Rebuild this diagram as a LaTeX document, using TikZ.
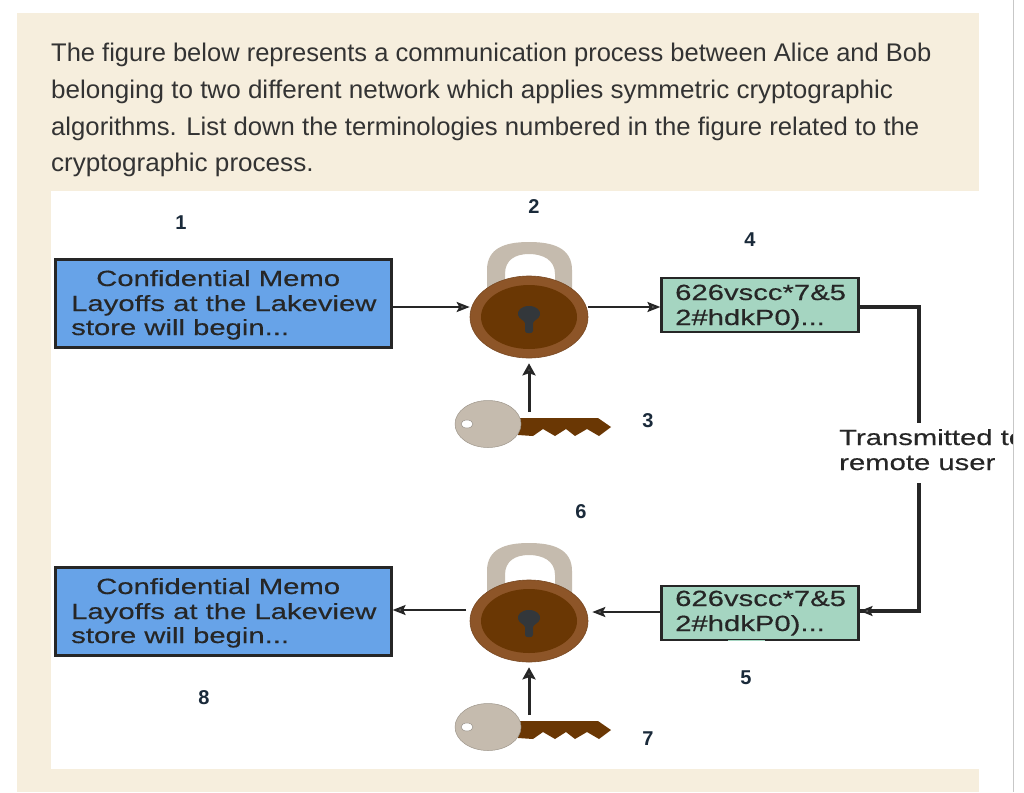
\documentclass[tikz,border=0pt]{standalone}
\usepackage{fontspec}
\setmainfont{Liberation Sans}
\newfontfamily\boxfont[FakeStretch=1.33,FakeBold=0.4]{Liberation Sans}
\usetikzlibrary{shapes.geometric,arrows.meta}
\definecolor{panel}{HTML}{F6EEDD}
\definecolor{memo}{HTML}{67A3E8}
\definecolor{cipher}{HTML}{A5D5C1}
\definecolor{rimbrown}{HTML}{8D5528}
\definecolor{corebrown}{HTML}{6A3704}
\definecolor{shackle}{HTML}{C5BBAE}
\definecolor{numcol}{HTML}{1A2A3A}
\definecolor{holecol}{HTML}{33373B}
\tikzset{
  x=1pt,y=-1pt,
  bodytext/.style={anchor=base west,font=\fontsize{25.5}{25.5}\selectfont,text=black!80,inner sep=0pt},
  memobox/.style={draw=black!85,line width=2.2pt,fill=memo,minimum width=336pt,minimum height=88pt,inner sep=0pt},
  cipherbox/.style={draw=black!85,line width=2.2pt,fill=cipher,minimum width=197pt,minimum height=54pt,inner sep=0pt},
  boxtext/.style={anchor=base west,font=\boxfont\fontsize{22}{22}\selectfont,text=black!85,inner sep=0pt},
  num/.style={font=\bfseries\fontsize{20}{20}\selectfont,text=numcol,inner sep=0pt},
  link/.style={draw=black!85,line width=2pt},
  linktip/.style={-{Stealth[length=13pt,width=10pt,inset=2.5pt,fill=black!60]}},
  keytip/.style={-{Stealth[length=12pt,width=13pt,inset=2pt,fill=black!70]}},
  rim/.style={ellipse,draw=rimbrown!85!black,line width=.6pt,fill=rimbrown,minimum width=118pt,minimum height=82pt,inner sep=0pt},
}
\newcommand\lockart[4]{% name, x, y, shackle rise
  \fill[shackle] (#2-42,#3-26) -- (#2-42,#3-#4+28)
     .. controls (#2-42,#3-#4+6) and (#2-24,#3-#4) .. (#2,#3-#4)
     .. controls (#2+24,#3-#4) and (#2+43,#3-#4+6) .. (#2+43,#3-#4+28)
     -- (#2+43,#3-26) -- (#2+26,#3-26) -- (#2+26,#3-#4+32)
     .. controls (#2+26,#3-#4+18) and (#2+14,#3-#4+12) .. (#2,#3-#4+12)
     .. controls (#2-14,#3-#4+12) and (#2-24,#3-#4+18) .. (#2-24,#3-#4+32)
     -- (#2-24,#3-26) -- cycle;
  \node[rim] (#1) at (#2,#3) {};
  \fill[corebrown] (#2,#3) ellipse [x radius=48,y radius=32];
  \fill[holecol] (#2,#3-11) .. controls (#2+8,#3-11) and (#2+12,#3-6) .. (#2+11,#3-2)
     .. controls (#2+10,#3+2) and (#2+5,#3+3) .. (#2+4,#3+6) -- (#2+4,#3+14)
     .. controls (#2+4,#3+17) and (#2-4,#3+17) .. (#2-4,#3+14) -- (#2-4,#3+6)
     .. controls (#2-5,#3+3) and (#2-10,#3+2) .. (#2-11,#3-2)
     .. controls (#2-12,#3-6) and (#2-8,#3-11) .. (#2,#3-11) -- cycle;
}
\newcommand\keyart[3]{% name, head x, head y
  \fill[corebrown] (#2+30,#3-6) -- (#2+110,#3-6) -- (#2+123,#3+3) -- (#2+111,#3+12)
     -- (#2+99,#3+5) -- (#2+87,#3+12) -- (#2+78,#3+5) -- (#2+67,#3+12) -- (#2+55,#3+5)
     -- (#2+45,#3+12) -- (#2+30,#3+11) -- cycle;
  \node[ellipse,draw=shackle!80!black,line width=.5pt,fill=shackle,minimum width=66pt,minimum height=47pt,inner sep=0pt] (#1) at (#2,#3) {};
  \fill[white,draw=shackle!70!black,line width=.4pt] (#2-21,#3) ellipse [x radius=6,y radius=4];
}
\begin{document}
\begin{tikzpicture}
\useasboundingbox (0,0) rectangle (1024,792);
\fill[white] (0,0) rectangle (1024,792);
\fill[panel] (17,13) rectangle (979,792);
\fill[white] (51,191) rectangle (1013,769);

\node[bodytext] (l1) at (51,62) {The figure below represents a communication process between Alice and Bob};
\node[bodytext] (l2) at (51,98) {\scalebox{1.021}[1]{belonging to two different network which applies symmetric cryptographic}};
\node[bodytext] (l3) at (51,135) {\scalebox{1.008}[1]{algorithms. List down the terminologies numbered in the figure related to the}};
\node[bodytext] (l4) at (51,171) {\scalebox{1.023}[1]{cryptographic process.}};

\node[memobox] (memoA) at (223.5,303.5) {};
\node[boxtext] (a1) at (96,286) {Confidential Memo};
\node[boxtext] (a2) at (71,311) {Layoffs at the Lakeview};
\node[boxtext] (a3) at (71,335) {store will begin...};
\node[memobox] (memoB) at (223.5,611.5) {};
\node[boxtext] (b1) at (96,594) {Confidential Memo};
\node[boxtext] (b2) at (71,619) {Layoffs at the Lakeview};
\node[boxtext] (b3) at (71,643) {store will begin...};

\node[cipherbox] (ciphA) at (760,305) {};
\node[boxtext] (c1) at (675,300) {626vscc*7\&5};
\node[boxtext] (c2) at (675,325) {2\#hdkP0)...};
\node[cipherbox] (ciphB) at (760,613) {};
\fill[cipher] (728,640.4) rectangle (765,641.2);
\fill[white] (728,641.2) rectangle (765,642.4);
\node[boxtext] (d1) at (675,606) {626vscc*7\&5};
\node[boxtext] (d2) at (675,631) {2\#hdkP0)...};

\lockart{lockA}{529}{317}{75}
\lockart{lockB}{529}{621}{78}
\keyart{keyA}{488}{424}
\keyart{keyB}{488}{727}

\node[boxtext] (tr1) at (839,445) {Transmitted to};
\node[boxtext] (tr2) at (839,470) {remote user};
\fill[white] (1013,400) rectangle (1024,500);
\draw[black!22,line width=1.4pt] (1013.5,0) -- (1013.5,792);

\coordinate (wireTop) at (919,423);
\coordinate (wireBot) at (919,483);
\coordinate (gapB) at (466,610);
\draw[link,linktip] ([yshift=-3.5pt]memoA.east) -- ([yshift=10pt]lockA.west);
\draw[link,linktip] ([yshift=10pt]lockA.east) -- ([yshift=-2pt]ciphA.west);
\draw[link,line width=3pt,keytip] ([xshift=41pt,yshift=12pt]keyA.center) -- ([yshift=-5pt]lockA.south);
\draw[link,line width=3.6pt] ([yshift=-2pt]ciphA.east) -| (wireTop);
\draw[link,line width=3.6pt] (wireBot) |- ([yshift=2pt]ciphB.east);
\draw[link,linktip] ([xshift=16pt,yshift=2pt]ciphB.east) -- ([yshift=2pt]ciphB.east);
\draw[link,linktip] ([yshift=1pt]ciphB.west) -- ([xshift=4pt,yshift=9pt]lockB.east);
\draw[link,linktip] (gapB) -- ([yshift=1.5pt]memoB.east);
\draw[link,line width=3pt,keytip] ([xshift=41pt,yshift=12pt]keyB.center) -- ([yshift=-5pt]lockB.south);

\node[num] (n1) at (181,223) {1};
\node[num] (n2) at (534,207) {2};
\node[num] (n3) at (648,421) {3};
\node[num] (n4) at (750,240) {4};
\node[num] (n5) at (746,678) {5};
\node[num] (n6) at (581,512) {6};
\node[num] (n7) at (648,739) {7};
\node[num] (n8) at (204,698) {8};
\end{tikzpicture}
\end{document}
